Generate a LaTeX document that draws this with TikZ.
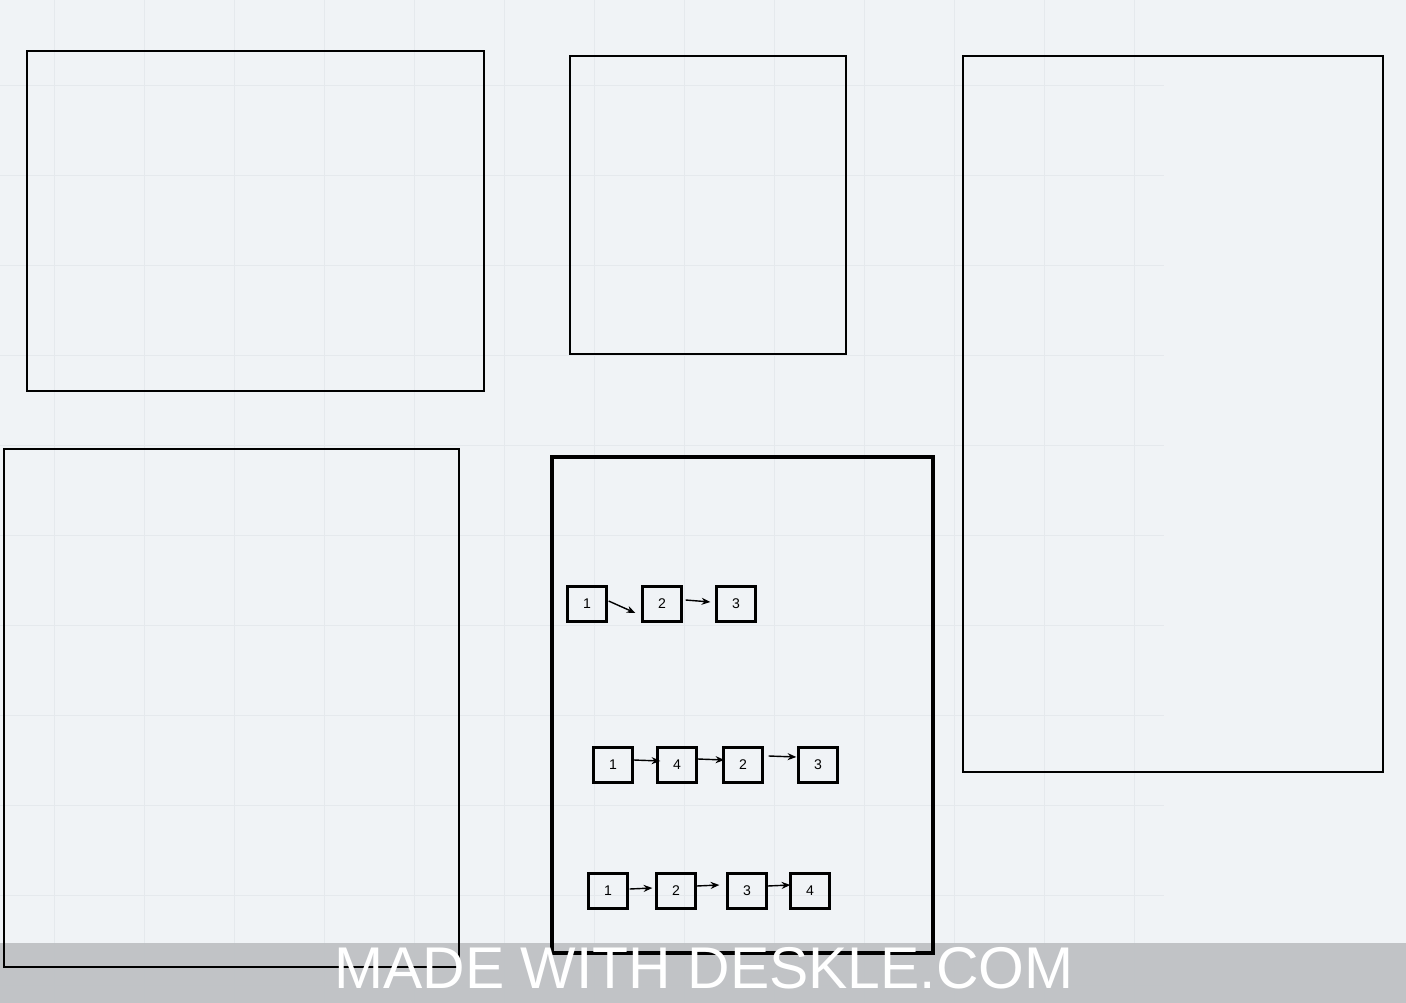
\documentclass[tikz,border=0pt]{standalone}
\usepackage{fontspec}
\setmainfont{Liberation Sans}
\usetikzlibrary{arrows.meta,calc}
\definecolor{canvasgray}{HTML}{F0F3F6}
\definecolor{gridgray}{HTML}{E5E9ED}
\definecolor{bannergray}{HTML}{BFC1C4}

\begin{document}
\begin{tikzpicture}[x=0.02cm, y=-0.02cm, line width=1.2pt,
  cell/.style={draw, line width=1.3pt, minimum width=0.78cm, minimum height=0.7cm,
    inner sep=0pt, font=\fontsize{8}{9}\selectfont},
  link/.style={line width=0.8pt, -{Stealth[length=5pt,width=4pt]}}]
  \useasboundingbox (0,0) rectangle (1406,1003);
  \fill[canvasgray] (0,0) rectangle (1406,1003);
  \foreach \gx in {54,144,...,1134}
    \draw[gridgray, line width=0.4pt] (\gx,0) -- (\gx,1003);
  \foreach \gy in {85,175,...,985}
    \draw[gridgray, line width=0.4pt] (0,\gy) -- (1164,\gy);
  \fill[bannergray, fill opacity=0.95] (0,943) rectangle (1406,1003);

  \draw (27,51) rectangle (484,391);
  \draw (570,56) rectangle (846,354);
  \draw (963,56) rectangle (1383,772);
  \draw (4,449) rectangle (459,967);
  \draw[line width=2.3pt] (552,457) rectangle (933,953);

  \node[cell] (a1) at (587,604) {1};
  \node[cell] (a2) at (662,604) {2};
  \node[cell] (a3) at (736,604) {3};
  \draw[link] ($(a1.east)+(1,-3)$) -- ($(a2.west)+(-6,9)$);
  \draw[link] ($(a2.east)+(3,-4)$) -- ($(a3.west)+(-5,-2)$);

  \node[cell] (b1) at (613,765) {1};
  \node[cell] (b4) at (677,765) {4};
  \node[cell] (b2) at (743,765) {2};
  \node[cell] (b3) at (818,765) {3};
  \draw[link] ($(b1.east)+(0,-5)$) -- ($(b4.west)+(4,-4)$);
  \draw[link] ($(b4.east)+(0,-6)$) -- ($(b2.west)+(2,-5)$);
  \draw[link] ($(b2.east)+(5,-9)$) -- ($(b3.west)+(-1,-8)$);

  \node[cell] (c1) at (608,891) {1};
  \node[cell] (c2) at (676,891) {2};
  \node[cell] (c3) at (747,891) {3};
  \node[cell] (c4) at (810,891) {4};
  \draw[link] ($(c1.east)+(1,-2)$) -- ($(c2.west)+(-3,-3)$);
  \draw[link] ($(c2.east)+(0,-5)$) -- ($(c3.west)+(-7,-6)$);
  \draw[link] ($(c3.east)+(0,-5)$) -- ($(c4.west)+(1,-6)$);

  \node[white, anchor=base, inner sep=0pt, font=\fontsize{33.5}{34}\selectfont]
    (banner) at (704,988) {MADE WITH DESKLE.COM};
\end{tikzpicture}
\end{document}
